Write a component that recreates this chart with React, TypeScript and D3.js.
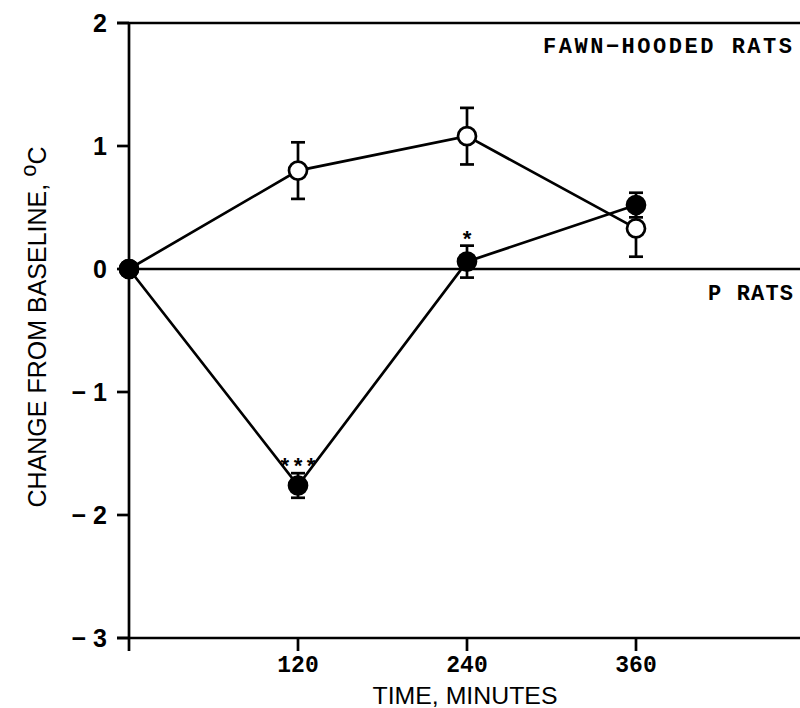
import React, { useEffect, useRef } from 'react';
import * as d3 from 'd3';

const times = [0, 120, 240, 360];
const fawnMean = [0, 0.8, 1.08, 0.33];
const fawnSE = [0, 0.23, 0.23, 0.23];
const pMean = [0, -1.76, 0.06, 0.52];
const pSE = [0, 0.1, 0.13, 0.1];
const xTicks = [120, 240, 360];
const yTicks = [2, 1, 0, -1, -2, -3];
const stars = [{ t: 120, v: -1.76, se: 0.1, s: '***' }, { t: 240, v: 0.06, se: 0.13, s: '*' }];

const W = 800, H = 708;

export default function App() {
  const ref = useRef<SVGSVGElement>(null);

  useEffect(() => {
    const svg = d3.select(ref.current);
    svg.selectAll('*').remove();

    const x = d3.scaleLinear().domain([0, 480]).range([129, 805]);
    const y = d3.scaleLinear().domain([-3, 2]).range([638, 23]);
    const sw = 2.7;

    const g = svg.append('g');

    // frame lines: top, bottom, left axis, zero line
    g.append('line').attr('x1', 117).attr('x2', W).attr('y1', y(2)).attr('y2', y(2))
      .attr('stroke', '#000').attr('stroke-width', sw);
    g.append('line').attr('x1', 117).attr('x2', W).attr('y1', y(-3)).attr('y2', y(-3))
      .attr('stroke', '#000').attr('stroke-width', sw);
    g.append('line').attr('x1', x(0)).attr('x2', W).attr('y1', y(0)).attr('y2', y(0))
      .attr('stroke', '#000').attr('stroke-width', sw);
    g.append('line').attr('x1', x(0)).attr('x2', x(0)).attr('y1', y(2) - 1).attr('y2', y(-3) + 13)
      .attr('stroke', '#000').attr('stroke-width', sw);

    // y ticks + labels
    g.selectAll('.ytick').data(yTicks).join('line').attr('class', 'ytick')
      .attr('x1', 117).attr('x2', x(0)).attr('y1', d => y(d)).attr('y2', d => y(d))
      .attr('stroke', '#000').attr('stroke-width', sw);
    g.selectAll('.ylab').data(yTicks).join('text').attr('class', 'ylab')
      .attr('x', 107).attr('y', d => y(d)).attr('dy', '0.36em')
      .attr('text-anchor', 'end')
      .attr('font-family', 'Liberation Sans, Arial, sans-serif').attr('font-weight', 'bold')
      .attr('font-size', 25)
      .text(d => (d < 0 ? '\u2212 ' + Math.abs(d) : String(d)));

    // x ticks + labels
    g.selectAll('.xtick').data(xTicks).join('line').attr('class', 'xtick')
      .attr('x1', d => x(d)).attr('x2', d => x(d)).attr('y1', y(-3)).attr('y2', y(-3) + 13)
      .attr('stroke', '#000').attr('stroke-width', sw);
    g.selectAll('.xlab').data(xTicks).join('text').attr('class', 'xlab')
      .attr('x', d => x(d)).attr('y', 672)
      .attr('text-anchor', 'middle')
      .attr('font-family', 'Liberation Mono, monospace').attr('font-weight', 'bold')
      .attr('font-size', 23)
      .text(d => String(d));

    // axis titles
    g.append('text').attr('x', 465).attr('y', 704).attr('text-anchor', 'middle')
      .attr('font-family', 'Liberation Sans, Arial, sans-serif')
      .attr('font-size', 24).attr('textLength', 185).attr('lengthAdjust', 'spacingAndGlyphs')
      .text('TIME, MINUTES');

    const yt = g.append('text').attr('transform', 'translate(46,327) rotate(-90)')
      .attr('text-anchor', 'middle')
      .attr('font-family', 'Liberation Sans, Arial, sans-serif')
      .attr('font-size', 25);
    yt.append('tspan').text('CHANGE FROM BASELINE, ');
    yt.append('tspan').attr('dy', -10).attr('font-size', 22).text('o');
    yt.append('tspan').attr('dy', 10).text('C');

    // series labels
    g.append('text').attr('x', 792).attr('y', 53).attr('text-anchor', 'end')
      .attr('font-family', 'Liberation Mono, monospace').attr('font-weight', 'bold')
      .attr('font-size', 22).attr('textLength', 249).text('FAWN\u2212HOODED RATS');
    g.append('text').attr('x', 793).attr('y', 300).attr('text-anchor', 'end')
      .attr('font-family', 'Liberation Mono, monospace').attr('font-weight', 'bold')
      .attr('font-size', 22).attr('textLength', 85).text('P RATS');

    const series = [
      { mean: fawnMean, se: fawnSE, fill: '#fff' },
      { mean: pMean, se: pSE, fill: '#000' },
    ];
    const line = d3.line<number>().x((_, i) => x(times[i])).y(d => y(d));

    series.forEach(s => {
      const sg = g.append('g');
      sg.append('path').attr('d', line(s.mean)).attr('fill', 'none')
        .attr('stroke', '#000').attr('stroke-width', sw);
      const pts = times.map((t, i) => ({ t, v: s.mean[i], e: s.se[i] })).filter(d => d.e > 0);
      sg.selectAll('.eb').data(pts).join('line').attr('class', 'eb')
        .attr('x1', d => x(d.t)).attr('x2', d => x(d.t))
        .attr('y1', d => y(d.v + d.e)).attr('y2', d => y(d.v - d.e))
        .attr('stroke', '#000').attr('stroke-width', sw);
      sg.selectAll('.capt').data(pts).join('line').attr('class', 'capt')
        .attr('x1', d => x(d.t) - 7).attr('x2', d => x(d.t) + 7)
        .attr('y1', d => y(d.v + d.e)).attr('y2', d => y(d.v + d.e))
        .attr('stroke', '#000').attr('stroke-width', sw);
      sg.selectAll('.capb').data(pts).join('line').attr('class', 'capb')
        .attr('x1', d => x(d.t) - 7).attr('x2', d => x(d.t) + 7)
        .attr('y1', d => y(d.v - d.e)).attr('y2', d => y(d.v - d.e))
        .attr('stroke', '#000').attr('stroke-width', sw);
      sg.selectAll('circle').data(times).join('circle')
        .attr('cx', d => x(d)).attr('cy', (_, i) => y(s.mean[i]))
        .attr('r', 9).attr('fill', s.fill).attr('stroke', '#000').attr('stroke-width', sw);
    });

    // significance asterisks
    g.selectAll('.star').data(stars).join('text').attr('class', 'star')
      .attr('x', d => x(d.t)).attr('y', d => y(d.v + d.se) + 1)
      .attr('text-anchor', 'middle')
      .attr('font-family', 'Liberation Mono, monospace').attr('font-weight', 'bold')
      .attr('font-size', 22)
      .text(d => d.s);
  }, []);

  return (
    <div style={{ position: 'absolute', left: 0, top: 0 }}>
      <svg ref={ref} width={W} height={H} style={{ display: 'block', background: '#fff' }} />
    </div>
  );
}
